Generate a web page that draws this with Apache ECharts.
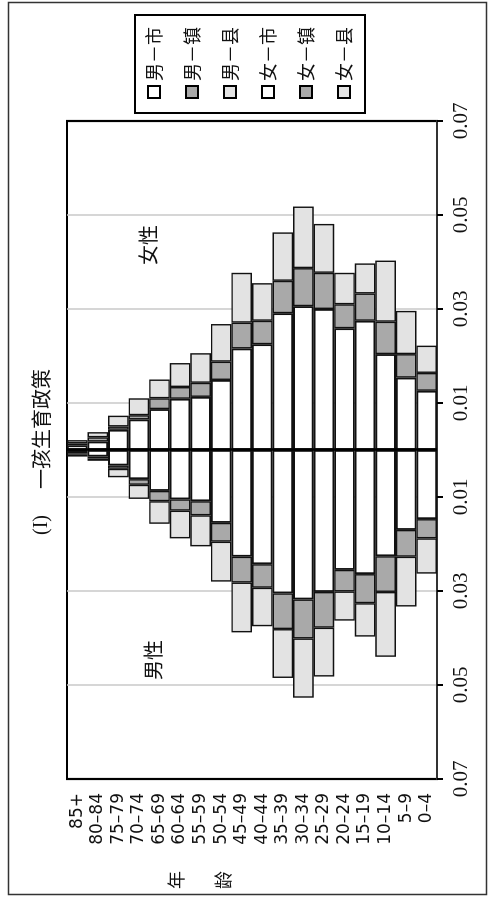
<!DOCTYPE html>
<html>
<head>
<meta charset="utf-8">
<script src="https://cdn.jsdelivr.net/npm/echarts@6/dist/echarts.min.js"></script>
<style>
html,body{margin:0;padding:0;width:488px;height:901px;overflow:hidden;background:#fff;}
#wrap{position:absolute;left:0;top:0;width:901px;height:488px;transform-origin:0 0;transform:translate(0,901px) rotate(-90deg);}
#chart{width:901px;height:488px;}
</style>
</head>
<body>
<div id="wrap"><div id="chart"></div></div>
<script>
// Age groups (oldest first)
const ageGroups = ['85+','80–84','75–79','70–74','65–69','60–64','55–59','50–54','45–49','40–44','35–39','30–34','25–29','20–24','15–19','10–14','5–9','0–4'];
const seriesNames = ['男－市','男－镇','男－县','女－市','女－镇','女－县'];
// Male shares (plotted to the negative side)
const maleCity   = [0.0007,0.0014,0.0033,0.0062,0.0087,0.0105,0.0109,0.0155,0.0227,0.0243,0.0305,0.0318,0.0302,0.0255,0.0264,0.0226,0.0170,0.0147];
const maleTown   = [0.0003,0.0004,0.0007,0.0012,0.0022,0.0024,0.0030,0.0040,0.0055,0.0050,0.0076,0.0083,0.0076,0.0046,0.0062,0.0076,0.0057,0.0041];
const maleCounty = [0.0004,0.0005,0.0018,0.0030,0.0048,0.0059,0.0066,0.0085,0.0106,0.0082,0.0104,0.0126,0.0104,0.0062,0.0071,0.0138,0.0106,0.0075];
// Female shares
const femaleCity   = [0.0010,0.0018,0.0043,0.0065,0.0087,0.0109,0.0113,0.0149,0.0216,0.0225,0.0291,0.0306,0.0300,0.0259,0.0275,0.0204,0.0154,0.0126];
const femaleTown   = [0.0004,0.0009,0.0007,0.0009,0.0023,0.0025,0.0030,0.0039,0.0055,0.0050,0.0069,0.0081,0.0077,0.0051,0.0058,0.0069,0.0050,0.0038];
const femaleCounty = [0.0007,0.0011,0.0023,0.0036,0.0040,0.0051,0.0063,0.0080,0.0106,0.0080,0.0103,0.0131,0.0104,0.0067,0.0064,0.0130,0.0092,0.0058];
// Value axis
const axisMin = -0.07, axisMax = 0.07, axisStep = 0.02;

const fills = ['#ffffff','#a9a9a9','#e3e3e3','#ffffff','#a9a9a9','#e3e3e3'];
const dataSets = [
  maleCity.map(v=>-v), maleTown.map(v=>-v), maleCounty.map(v=>-v),
  femaleCity, femaleTown, femaleCounty
];

const series = dataSets.map((d,i)=>({
  name: seriesNames[i],
  type: 'bar',
  stack: 'all',
  data: d,
  barCategoryGap: '0%',
  itemStyle: {color: fills[i], borderColor: '#111', borderWidth: (i%3===0)?1.8:1.4},
  emphasis: {disabled: true},
  animation: false
}));
series[0].markLine = {
  silent: true, symbol: 'none', animation: false,
  label: {show: false},
  lineStyle: {color: '#000', width: 2.5, type: 'solid'},
  data: [{xAxis: 0}]
};

const chart = echarts.init(document.getElementById('chart'), null, {renderer: 'canvas'});
chart.setOption({
  animation: false,
  backgroundColor: '#fff',
  grid: {left: 122, right: 121, top: 67, bottom: 51, show: true, borderColor: '#000', borderWidth: 2.2, backgroundColor: 'transparent'},
  legend: {
    orient: 'vertical', left: 788, top: 135,
    padding: [9, 12, 11, 14],
    borderColor: '#000', borderWidth: 2,
    itemWidth: 12, itemHeight: 12, itemGap: 18,
    icon: 'rect',
    itemStyle: {borderColor: '#000', borderWidth: 2},
    textStyle: {fontFamily: '"Noto Sans CJK SC"', fontSize: 18, color: '#111', lineHeight: 20},
    data: seriesNames
  },
  xAxis: {
    type: 'value', min: axisMin, max: axisMax, interval: axisStep,
    position: 'bottom',
    axisLine: {show: true, onZero: false, lineStyle: {color: '#333', width: 2}},
    axisTick: {show: true, length: 6, lineStyle: {color: '#000', width: 2}},
    axisLabel: {margin: 14, fontFamily: '"Liberation Serif"', fontSize: 21, color: '#111',
      formatter: v => Math.abs(v).toFixed(2)},
    splitLine: {show: true, showMinLine: false, showMaxLine: false, lineStyle: {color: '#c8c8c8', width: 1.5}}
  },
  yAxis: {
    type: 'category', data: ageGroups, inverse: true,
    axisLine: {show: false}, axisTick: {show: false},
    axisLabel: {interval: 0, margin: 14, fontFamily: '"DejaVu Sans"', fontSize: 17, color: '#111'},
    splitLine: {show: false}
  },
  graphic: [
    {type: 'rect', left: 4, top: 6, shape: {width: 892, height: 478}, style: {fill: 'none', stroke: '#333', lineWidth: 1.5}, silent: true},
    {type: 'text', left: 366, top: 32, style: {text: '(I)', font: '20px "Liberation Serif"', fill: '#111'}},
    {type: 'text', left: 412, top: 31, style: {text: '一孩生育政策', font: '20px "Noto Sans CJK SC"', fill: '#111'}},
    {type: 'text', left: 636, top: 138, style: {text: '女性', font: '20px "Noto Sans CJK SC"', fill: '#111'}},
    {type: 'text', left: 221, top: 143, style: {text: '男性', font: '20px "Noto Sans CJK SC"', fill: '#111'}},
    {type: 'text', left: 12, top: 167, style: {text: '年', font: '18px "Noto Sans CJK SC"', fill: '#111'}},
    {type: 'text', left: 12, top: 214, style: {text: '龄', font: '18px "Noto Sans CJK SC"', fill: '#111'}}
  ],
  series: series
});
</script>
</body>
</html>
